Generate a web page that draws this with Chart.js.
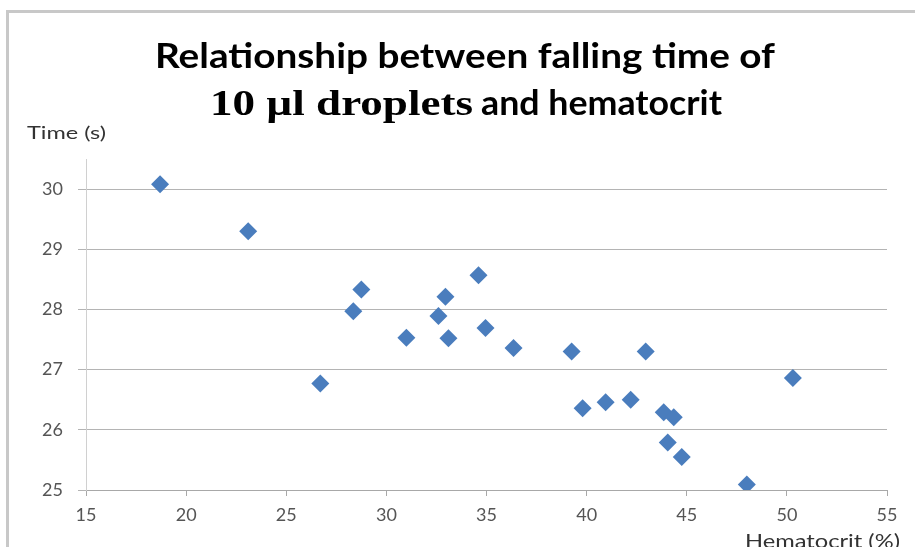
<!DOCTYPE html>
<html>
<head>
<meta charset="utf-8">
<script src="https://cdn.jsdelivr.net/npm/chart.js@4"></script>
<style>
  body { margin: 0; background: #fff; }
  #wrap { position: relative; width: 915px; height: 547px; overflow: hidden; }
  #frame { position: absolute; left: 6px; top: 10px; width: 940px; height: 560px;
           border-top: 3px solid #c8c8c8; border-left: 3px solid #c8c8c8; }
  canvas { position: absolute; left: 0; top: 0; }
</style>
</head>
<body>
<div id="wrap">
  <div id="frame"></div>
  <canvas id="chart" width="915" height="547"></canvas>
</div>
<script>
// Hematocrit (%) on x, falling time (s) on y
const hematocrit = [18.7, 23.1, 26.7, 28.35, 28.75, 31.0, 32.6, 32.95, 33.1, 34.6, 34.95, 36.35,
                    39.25, 39.8, 40.95, 42.2, 42.95, 43.85, 44.35, 44.05, 44.75, 48.0, 50.3];
const fallTime   = [30.08, 29.3, 26.77, 27.97, 28.33, 27.53, 27.89, 28.21, 27.52, 28.57, 27.69, 27.36,
                    27.3, 26.36, 26.46, 26.5, 27.3, 26.29, 26.21, 25.79, 25.55, 25.09, 26.86];
const xTicks = [15, 20, 25, 30, 35, 40, 45, 50, 55];
const yTicks = [25, 26, 27, 28, 29, 30];

const points = hematocrit.map((h, i) => ({ x: h, y: fallTime[i] }));

// draw text stretched to a given width (the picture's lettering is a bit wide)
function fitText(ctx, txt, x, y, w, font, color) {
  ctx.save();
  ctx.font = font;
  ctx.fillStyle = color;
  ctx.textBaseline = 'alphabetic';
  ctx.textAlign = 'left';
  const m = ctx.measureText(txt).width;
  ctx.translate(x, y);
  ctx.scale(w / m, 1);
  ctx.fillText(txt, 0, 0);
  ctx.restore();
}

const textPlugin = {
  id: 'texts',
  afterDraw(chart) {
    const ctx = chart.ctx;
    fitText(ctx, 'Relationship between falling time of', 155, 68, 620, 'bold 34px Lato', '#000');
    fitText(ctx, '10 µl droplets', 210, 115, 263, 'bold 35px "Liberation Serif"', '#000');
    fitText(ctx, 'and hematocrit', 481, 115, 241, 'bold 34px Lato', '#000');
    fitText(ctx, 'Time (s)', 27, 139, 79, '18px Lato', '#333');
    fitText(ctx, 'Hematocrit (%)', 745, 548, 155, '20px Lato', '#333');
  }
};

new Chart(document.getElementById('chart'), {
  type: 'scatter',
  data: {
    datasets: [{
      data: points,
      pointStyle: 'rectRot',
      pointRadius: 9,
      pointHoverRadius: 9,
      backgroundColor: '#4a7dbd',
      borderColor: '#4a7dbd',
      borderWidth: 0
    }]
  },
  options: {
    responsive: false,
    animation: false,
    layout: { padding: { top: 159, right: 28, left: 0, bottom: 0 } },
    plugins: { legend: { display: false }, tooltip: { enabled: false } },
    scales: {
      x: {
        type: 'linear',
        min: 15, max: 55,
        afterBuildTicks: s => { s.ticks = xTicks.map(v => ({ value: v })); },
        afterFit: s => { s.height = 57; },
        grid: { drawOnChartArea: false, drawTicks: true, tickLength: 6, color: '#a8a8a8' },
        border: { color: '#a8a8a8', width: 1 },
        ticks: { color: '#555', font: { family: 'Lato', size: 18 }, padding: 8, maxRotation: 0 }
      },
      y: {
        type: 'linear',
        min: 25, max: 30.5,
        afterBuildTicks: s => { s.ticks = yTicks.map(v => ({ value: v })); },
        afterFit: s => { s.width = 86; },
        grid: { drawOnChartArea: true, drawTicks: true, tickLength: 8, color: '#b4b4b4' },
        border: { color: '#d0d0d0', width: 1 },
        ticks: { color: '#555', font: { family: 'Lato', size: 18 }, padding: 15 }
      }
    }
  },
  plugins: [textPlugin]
});
</script>
</body>
</html>
